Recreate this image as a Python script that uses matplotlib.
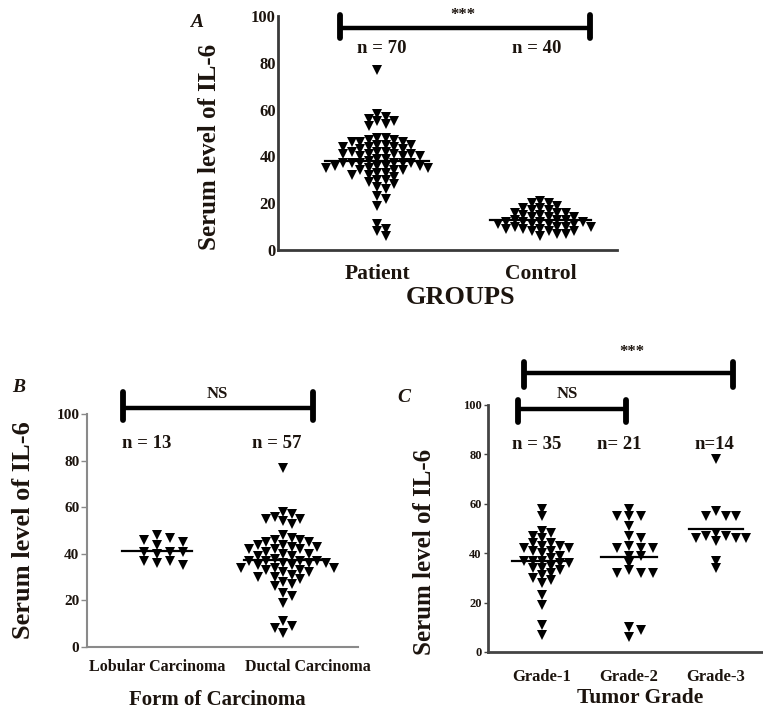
import numpy as np
import matplotlib
matplotlib.use("Agg")
import matplotlib.pyplot as plt

# ---------------- data ----------------
groups_a = ["Patient", "Control"]
lobular = [48, 47, 46, 45, 44, 41, 41, 41, 40, 37, 37, 36, 35]
ductal = [77,
          58, 57, 56, 55, 55, 54, 53,
          48, 47, 46, 46, 45, 45,
          44, 44, 43, 43, 42, 42, 42,
          41, 40, 40, 39, 39, 38,
          37, 37, 37, 37, 36, 36, 36, 35, 35,
          34, 34, 34, 33, 33, 32, 32, 31,
          30, 30, 29, 28, 27, 26,
          23, 22, 19,
          11, 9, 8, 6]
patient = lobular + ductal
control = [21, 20, 20, 19, 18, 18, 17, 17, 16, 16, 16, 15, 15, 14, 14, 14,
           13, 13, 13, 12, 12, 12, 12, 11, 11, 11, 11, 10, 10, 10, 10,
           9, 9, 9, 8, 8, 8, 7, 7, 6]

groups_b = ["Lobular Carcinoma", "Ductal Carcinoma"]

groups_c = ["Grade-1", "Grade-2", "Grade-3"]
grade_1 = [58, 55, 49, 48, 47, 46, 44, 44, 43, 43, 42, 42, 41, 41, 40,
           39, 38, 37, 37, 37, 36, 36, 35, 34, 34, 33, 32, 31, 30, 29, 28,
           23, 19, 11, 7]
grade_2 = [58, 55, 55, 55, 51, 47, 46, 43, 42, 42, 42, 39, 39, 36,
           33, 32, 32, 32, 10, 9, 6]
grade_3 = [78, 57, 55, 55, 55, 48, 47, 47, 46, 46, 46, 45, 37, 34]

n_a = ["n = 70", "n = 40"]
n_b = ["n = 13", "n = 57"]
n_c = ["n = 35", "n= 21", "n=14"]
yticks = [0, 20, 40, 60, 80, 100]

# ---------------- style ----------------
plt.rcParams["font.family"] = ["Liberation Serif", "DejaVu Serif"]
plt.rcParams["font.weight"] = "bold"
TXT = "#1c140e"

fig = plt.figure(figsize=(7.63, 7.09), dpi=100)


def swarm_offsets(ax, x0, values, d_px, dy_px=None):
    """Greedy beeswarm in pixel space; returns x positions in data units."""
    if dy_px is None:
        dy_px = d_px
    trans = ax.transData
    inv = trans.inverted()
    x0_px = trans.transform((x0, 0))[0]
    order = np.argsort(values)[::-1]
    placed = []
    xs = np.zeros(len(values))
    step = d_px * 0.5
    for i in order:
        y_px = trans.transform((x0, values[i]))[1]
        k = 0
        while True:
            cands = [0.0] if k == 0 else [k * step, -k * step]
            found = None
            for c in cands:
                ok = True
                for (px, py) in placed:
                    if abs(py - y_px) < dy_px and abs(px - c) < d_px:
                        ok = False
                        break
                if ok:
                    found = c
                    break
            if found is not None:
                placed.append((found, y_px))
                xs[i] = inv.transform((x0_px + found, y_px))[0]
                break
            k += 1
    return xs


def style_axes(ax, spine_color, lw, ytick_fs, tick_len, xlabel_pad):
    for s in ["top", "right"]:
        ax.spines[s].set_visible(False)
    for s in ["left", "bottom"]:
        ax.spines[s].set_color(spine_color)
        ax.spines[s].set_linewidth(lw)
    ax.set_ylim(0, 100)
    ax.set_yticks(yticks)
    ax.tick_params(axis="y", length=tick_len, width=1, color=spine_color,
                   labelsize=ytick_fs, pad=1.5, labelcolor=TXT)
    ax.tick_params(axis="x", length=0, pad=xlabel_pad, labelcolor=TXT)
    for lab in ax.get_yticklabels():
        lab.set_fontweight("bold")


def draw_group(ax, x0, vals, d_px, dy_px, ms, half):
    xs = swarm_offsets(ax, x0, vals, d_px, dy_px)
    ax.plot(xs, vals, linestyle="none", marker="v", markersize=ms,
            color="black", markeredgewidth=0, clip_on=False, zorder=3)
    m = np.mean(vals)
    ax.plot([x0 - half, x0 + half], [m, m], color="black", lw=1.6, zorder=2)


def sig_bar(ax, x1, x2, y, cap_lo, cap_hi, lw):
    ax.plot([x1, x2], [y, y], color="black", lw=lw, clip_on=False,
            solid_capstyle="butt")
    for xx in (x1, x2):
        ax.plot([xx, xx], [cap_lo, cap_hi], color="black", lw=lw + 1,
                clip_on=False, solid_capstyle="round")


# ---------------- Panel A ----------------
axA = fig.add_axes([0.3644, 0.6474, 0.4443, 0.3300])
axA.set_xlim(0.393, 2.47)
style_axes(axA, "#3a3a3a", 2.0, 12, 0, 10)
axA.set_xticks([1, 2])
axA.set_xticklabels(groups_a, fontsize=15.5, fontweight="bold")
draw_group(axA, 1, patient, 8.5, 7.0, 7.5, 0.32)
draw_group(axA, 2, control, 8.5, 7.0, 7.5, 0.31)
axA.set_ylabel("Serum level of IL-6", fontsize=18, fontweight="bold", color=TXT)
axA.yaxis.set_label_coords(-0.168, 0.44)
axA.text(0.537, -0.205, "GROUPS", transform=axA.transAxes, ha="center",
         va="center", fontsize=19, fontweight="bold", color=TXT)
sig_bar(axA, 0.773, 2.307, 95, 90.6, 100.4, 3.2)
axA.text(1.528, 100.5, "***", ha="center", va="center", fontsize=12,
         fontweight="bold", color=TXT, clip_on=False)
for x0, t in zip([1.03, 1.98], n_a):
    axA.text(x0, 86, t, ha="center", va="center", fontsize=13.5,
             fontweight="bold", color=TXT)

# ---------------- Panel B ----------------
axB = fig.add_axes([0.1140, 0.0874, 0.3552, 0.3286])
axB.set_xlim(0.444, 2.595)
style_axes(axB, "#8a8a8a", 1.5, 11, 4, 8.5)
axB.set_xticks([1.0, 2.2])
axB.set_xticklabels(groups_b, fontsize=11.5, fontweight="bold")
draw_group(axB, 1, lobular, 13.0, 7.0, 7.0, 0.28)
draw_group(axB, 2, ductal, 8.5, 7.0, 7.0, 0.31)
axB.set_ylabel("Serum level of IL-6", fontsize=19, fontweight="bold", color=TXT)
axB.yaxis.set_label_coords(-0.19, 0.50)
axB.text(0.48, -0.227, "Form of Carcinoma", transform=axB.transAxes,
         ha="center", va="center", fontsize=15, fontweight="bold", color=TXT)
sig_bar(axB, 0.73, 2.24, 102.7, 97.4, 109.6, 3.2)
axB.text(1.476, 108.5, "NS", ha="center", va="center", fontsize=12,
         fontweight="bold", color=TXT, clip_on=False)
for x0, t in zip([0.92, 1.95], n_b):
    axB.text(x0, 87.5, t, ha="center", va="center", fontsize=13.5,
             fontweight="bold", color=TXT)

# ---------------- Panel C ----------------
axC = fig.add_axes([0.6396, 0.0804, 0.3591, 0.3484])
axC.set_xlim(0.383, 3.53)
style_axes(axC, "#444444", 2.0, 9, 3, 12)
axC.set_xticks([1, 2, 3])
axC.set_xticklabels(groups_c, fontsize=12, fontweight="bold")
draw_group(axC, 1, grade_1, 9.0, 6.5, 6.5, 0.34)
draw_group(axC, 2, grade_2, 12.0, 6.5, 6.5, 0.32)
draw_group(axC, 3, grade_3, 10.0, 6.5, 6.5, 0.31)
axC.set_ylabel("Serum level of IL-6", fontsize=18, fontweight="bold", color=TXT)
axC.yaxis.set_label_coords(-0.19, 0.405)
axC.text(0.555, -0.186, "Tumor Grade", transform=axC.transAxes,
         ha="center", va="center", fontsize=15.5, fontweight="bold", color=TXT)
sig_bar(axC, 0.794, 3.194, 112.8, 107.4, 117.5, 3.2)
axC.text(2.03, 121.5, "***", ha="center", va="center", fontsize=12,
         fontweight="bold", color=TXT, clip_on=False)
sig_bar(axC, 0.726, 1.97, 98.4, 93.2, 102.0, 3.2)
axC.text(1.297, 104.5, "NS", ha="center", va="center", fontsize=12,
         fontweight="bold", color=TXT, clip_on=False)
for x0, t in zip([0.94, 1.89, 2.98], n_c):
    axC.text(x0, 83.8, t, ha="center", va="center", fontsize=13.5,
             fontweight="bold", color=TXT)

# ---------------- panel letters ----------------
fig.text(0.258, 0.968, "A", fontsize=14, fontweight="bold", style="italic",
         ha="center", va="center", color=TXT)
fig.text(0.024, 0.453, "B", fontsize=14, fontweight="bold", style="italic",
         ha="center", va="center", color=TXT)
fig.text(0.529, 0.440, "C", fontsize=14, fontweight="bold", style="italic",
         ha="center", va="center", color=TXT)

fig.savefig("out.png", dpi=100)
